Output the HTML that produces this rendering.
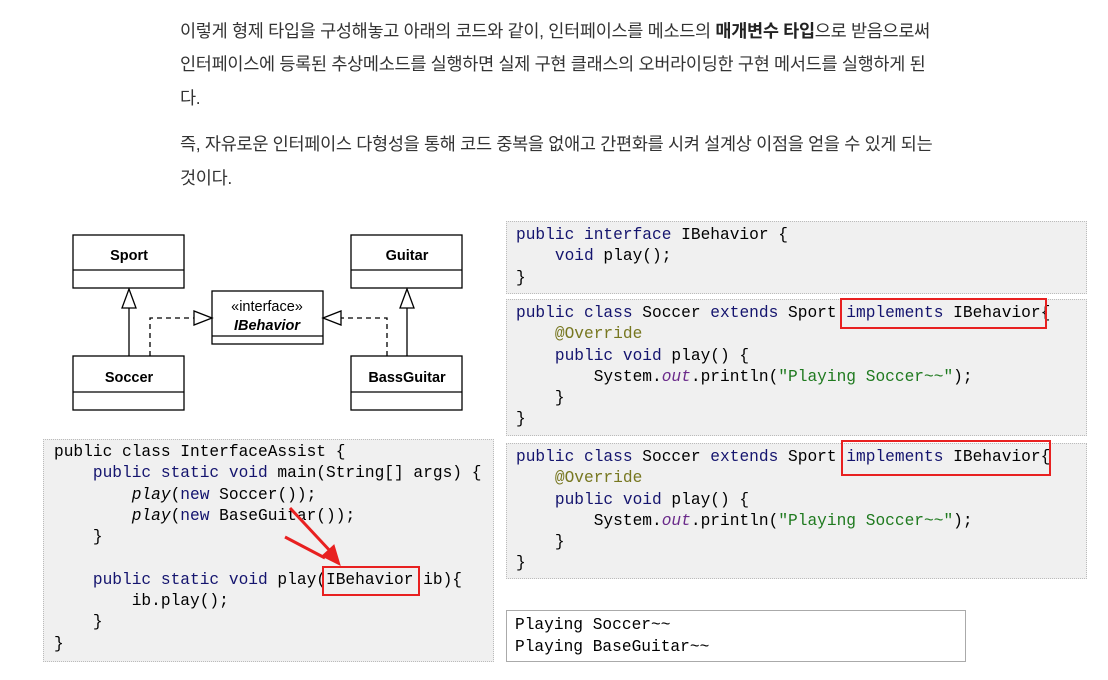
<!DOCTYPE html><html><head><meta charset="utf-8"><style>
body{margin:0;width:1108px;height:680px;background:#fff;position:relative;overflow:hidden;font-family:"Liberation Sans","Noto Sans CJK KR",sans-serif}
.t{position:absolute;left:180px;font-size:17.5px;color:#333;white-space:nowrap;line-height:22px;letter-spacing:-0.3px}
.box{position:absolute;background:#f0f0f0;border:1px dotted #bbb;box-sizing:border-box}
.c{position:absolute;font-family:"Liberation Mono",monospace;font-size:16.2px;white-space:pre;color:#000;line-height:21.3px}
.k{color:#14146e}.g{color:#1f7a1f}.a{color:#777720}.p{color:#6a2a8a;font-style:italic}.i{font-style:italic}
.r{position:absolute;border:2px solid #e82020;box-sizing:border-box}
</style></head><body>
<div class="t" style="top:20px">이렇게 형제 타입을 구성해놓고 아래의 코드와 같이, 인터페이스를 메소드의 <b style="color:#222">매개변수 타입</b>으로 받음으로써</div>
<div class="t" style="top:53px">인터페이스에 등록된 추상메소드를 실행하면 실제 구현 클래스의 오버라이딩한 구현 메서드를 실행하게 된</div>
<div class="t" style="top:87px">다.</div>
<div class="t" style="top:133px">즉, 자유로운 인터페이스 다형성을 통해 코드 중복을 없애고 간편화를 시켜 설계상 이점을 얻을 수 있게 되는</div>
<div class="t" style="top:167px">것이다.</div>

<svg style="position:absolute;left:0;top:0" width="1108" height="680">
<g fill="#fff" stroke="#000" stroke-width="1.3">
<rect x="73" y="235" width="111" height="53"/><line x1="73" y1="270" x2="184" y2="270"/>
<rect x="351" y="235" width="111" height="53"/><line x1="351" y1="270" x2="462" y2="270"/>
<rect x="212" y="291" width="111" height="53"/><line x1="212" y1="336" x2="323" y2="336"/>
<rect x="73" y="356" width="111" height="54"/><line x1="73" y1="392" x2="184" y2="392"/>
<rect x="351" y="356" width="111" height="54"/><line x1="351" y1="392" x2="462" y2="392"/>
<line x1="129" y1="356" x2="129" y2="308"/><polygon points="129,289 122,308 136,308"/>
<line x1="407" y1="356" x2="407" y2="308"/><polygon points="407,289 400,308 414,308"/>
<polyline fill="none" stroke-dasharray="5,4" points="150,356 150,318 194,318"/><polygon points="212,318 194,311 194,325"/>
<polyline fill="none" stroke-dasharray="5,4" points="387,356 387,318 341,318"/><polygon points="323,318 341,311 341,325"/>
</g>
<g font-family="Liberation Sans,sans-serif" font-size="14.5" text-anchor="middle" font-weight="bold">
<text x="129" y="260">Sport</text><text x="407" y="260">Guitar</text>
<text x="129" y="382">Soccer</text><text x="407" y="382">BassGuitar</text>
<text x="267" y="330" font-style="italic">IBehavior</text>
<text x="267" y="311" font-weight="normal">«interface»</text>
</g>
</svg>

<div class="box" style="left:43px;top:439px;width:451px;height:223px"></div>
<div class="c" style="left:54px;top:442px">public class InterfaceAssist {
    <span class="k">public static void</span> main(String[] args) {
        <span class="i">play</span>(<span class="k">new</span> Soccer());
        <span class="i">play</span>(<span class="k">new</span> BaseGuitar());
    }

    <span class="k">public static void</span> play(IBehavior ib){
        ib.play();
    }
}</div>
<div class="r" style="left:322px;top:566px;width:98px;height:30px"></div>

<div class="box" style="left:506px;top:221px;width:581px;height:73px"></div>
<div class="c" style="left:516px;top:225px"><span class="k">public interface</span> IBehavior {
    <span class="k">void</span> play();
}</div>
<div class="box" style="left:506px;top:299px;width:581px;height:137px"></div>
<div class="c" style="left:516px;top:303px"><span class="k">public class</span> Soccer <span class="k">extends</span> Sport <span class="k">implements</span> IBehavior{
    <span class="a">@Override</span>
    <span class="k">public void</span> play() {
        System.<span class="p">out</span>.println(<span class="g">"Playing Soccer~~"</span>);
    }
}</div>
<div class="r" style="left:840px;top:298px;width:207px;height:31px"></div>
<div class="box" style="left:506px;top:443px;width:581px;height:136px"></div>
<div class="c" style="left:516px;top:447px"><span class="k">public class</span> Soccer <span class="k">extends</span> Sport <span class="k">implements</span> IBehavior{
    <span class="a">@Override</span>
    <span class="k">public void</span> play() {
        System.<span class="p">out</span>.println(<span class="g">"Playing Soccer~~"</span>);
    }
}</div>
<div class="r" style="left:841px;top:440px;width:210px;height:36px"></div>

<div style="position:absolute;left:506px;top:610px;width:460px;height:52px;border:1px solid #aaa;box-sizing:border-box"></div>
<div class="c" style="left:515px;top:614px;line-height:22px">Playing Soccer~~
Playing BaseGuitar~~</div>

<svg style="position:absolute;left:0;top:0" width="1108" height="680">
<g stroke="#e82020" stroke-width="3" fill="#e82020">
<line x1="290" y1="508" x2="332" y2="553"/>
<line x1="285" y1="537" x2="325" y2="558"/>
<polygon points="340,565 322,556 334,545" stroke-width="1"/>
</g>
</svg>
</body></html>
